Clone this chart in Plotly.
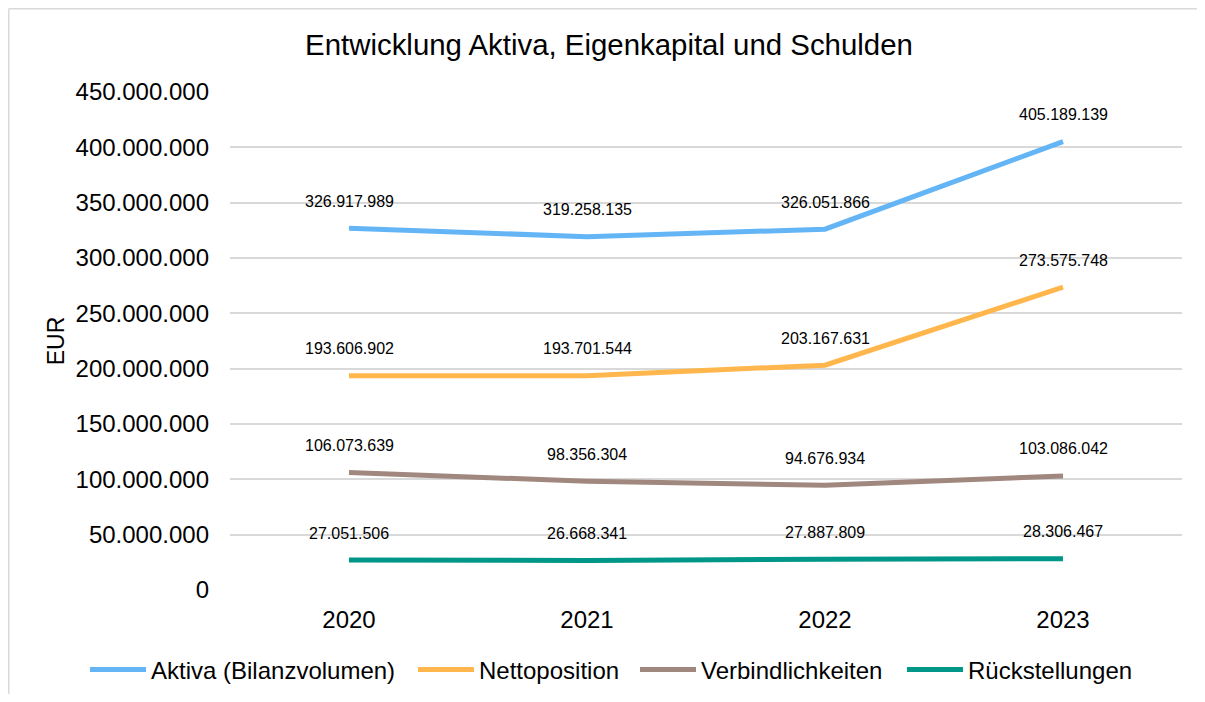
import plotly.graph_objects as go

years = ["2020", "2021", "2022", "2023"]
aktiva = [326917989, 319258135, 326051866, 405189139]
nettoposition = [193606902, 193701544, 203167631, 273575748]
verbindlichkeiten = [106073639, 98356304, 94676934, 103086042]
rueckstellungen = [27051506, 26668341, 27887809, 28306467]

series_names = ["Aktiva (Bilanzvolumen)", "Nettoposition", "Verbindlichkeiten", "Rückstellungen"]
series_values = [aktiva, nettoposition, verbindlichkeiten, rueckstellungen]
series_colors = ["#64B5F6", "#FFB74D", "#A1887F", "#009688"]

y_tickvals = list(range(0, 450000001, 50000000))
y_ticktext = ["0" if v == 0 else f"{v:,}".replace(",", ".") for v in y_tickvals]

FONT = "Liberation Sans, Arial, sans-serif"
W, H = 1189, 686  # page has an 8px body margin
PL, PT, PW, PH = 222, 84, 952, 498  # plot area in figure pixels
LEGEND_X = [77, 405, 627, 894]  # left edge of each legend entry, figure px


def de_fmt(v):
    return f"{v:,}".replace(",", ".")


fig = go.Figure()
annotations = []
legend_ids = ["legend", "legend2", "legend3", "legend4"]
for name, vals, col, lid in zip(series_names, series_values, series_colors, legend_ids):
    fig.add_trace(go.Scatter(
        x=years, y=vals, name=name, mode="lines",
        line=dict(color=col, width=5), legend=lid,
    ))
    for i, yv in enumerate(vals):
        annotations.append(dict(
            x=i, y=yv, xref="x", yref="y", text=de_fmt(yv),
            showarrow=False, yshift=27,
            font=dict(family=FONT, size=16, color="#000000"),
        ))

legend_layouts = {}
for lid, lx in zip(legend_ids, LEGEND_X):
    legend_layouts[lid] = dict(
        orientation="h", xref="paper", yref="paper",
        x=(lx - PL) / PW, xanchor="left",
        y=(PT + PH - 662) / PH, yanchor="middle",
        font=dict(family=FONT, size=24, color="#000000"),
        itemwidth=56, tracegroupgap=0, bgcolor="rgba(0,0,0,0)",
    )

fig.update_layout(
    width=W, height=H,
    paper_bgcolor="white", plot_bgcolor="white",
    margin=dict(l=PL, r=W - PL - PW, t=PT, b=H - PT - PH, autoexpand=False),
    font=dict(family=FONT, color="#000000"),
    title=dict(text="Entwicklung Aktiva, Eigenkapital und Schulden",
               x=601 / W, xanchor="center", xref="container",
               y=1 - 37 / H, yanchor="middle", yref="container",
               font=dict(family=FONT, size=29.4, color="#000000")),
    xaxis=dict(type="category", range=[-0.5, 3.5], showgrid=False,
               showline=False, zeroline=False, ticks="",
               tickfont=dict(family=FONT, size=24, color="#000000"),
               ticklabelstandoff=13),
    yaxis=dict(range=[0, 450000000], tickvals=y_tickvals, ticktext=y_ticktext,
               showgrid=True, gridcolor="#D9D9D9", gridwidth=1.5,
               zeroline=False, showline=False, ticks="",
               tickfont=dict(family=FONT, size=24, color="#000000"),
               ticklabelstandoff=20,
               title=dict(text="EUR", font=dict(family=FONT, size=23, color="#000000"),
                          standoff=4)),
    annotations=annotations,
    shapes=[
        dict(type="line", xref="paper", yref="paper",
             x0=(0.75 - PL) / PW, x1=(W - PL) / PW,
             y0=(PT + PH - 0.75) / PH, y1=(PT + PH - 0.75) / PH,
             line=dict(color="#D9D9D9", width=1.5), layer="below"),
        dict(type="line", xref="paper", yref="paper",
             x0=(0.75 - PL) / PW, x1=(0.75 - PL) / PW,
             y0=(PT + PH - 0.75) / PH, y1=(PT + PH - H) / PH,
             line=dict(color="#D9D9D9", width=1.5), layer="below"),
    ],
    showlegend=True,
    **legend_layouts,
)

fig.write_html("out.html")
